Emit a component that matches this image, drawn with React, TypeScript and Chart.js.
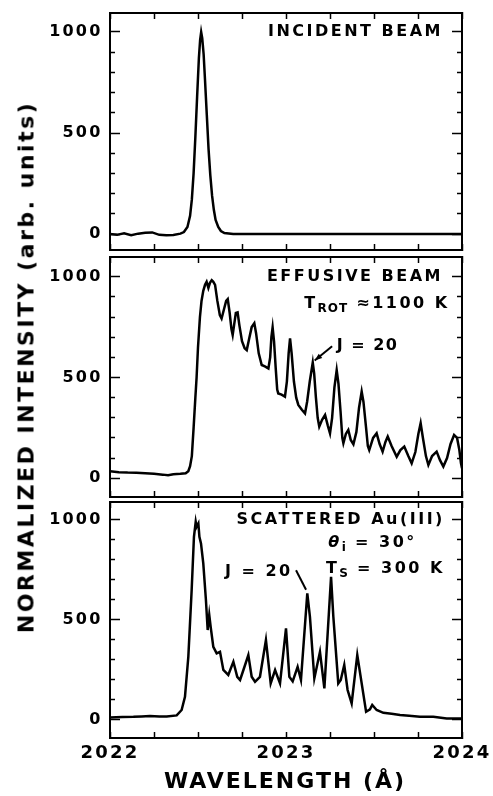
import React, { useEffect, useRef } from 'react';
import { Chart, registerables } from 'chart.js';

Chart.register(...registerables);

// ---------- axes ----------
const X_MIN = 2022;
const X_MAX = 2024;
const X_TICKS = [2022, 2022.25, 2022.5, 2022.75, 2023, 2023.25, 2023.5, 2023.75, 2024];
const X_LABELS = [2022, 2023, 2024];
const Y_MAJOR_TICKS = [0, 500, 1000];
const Y_MINOR_TICKS = [100, 200, 300, 400, 600, 700, 800, 900];

// ---------- data ----------
const incidentWavelength = [
  2022.0, 2022.04, 2022.08, 2022.12, 2022.16, 2022.2, 2022.24, 2022.28, 2022.32, 2022.36,
  2022.4, 2022.42, 2022.44, 2022.455, 2022.465, 2022.475, 2022.485, 2022.495, 2022.505,
  2022.512, 2022.518, 2022.524, 2022.532, 2022.54, 2022.55, 2022.56, 2022.57, 2022.58,
  2022.59, 2022.6, 2022.615, 2022.63, 2022.65, 2022.7, 2022.8, 2022.9, 2023.0, 2023.2,
  2023.4, 2023.6, 2023.8, 2024.0,
];
const incidentIntensity = [
  0, -4, 4, -6, 2, 6, 8, -4, -6, -5,
  2, 10, 35, 90, 170, 300, 480, 680, 870,
  960, 1000, 970, 890, 760, 590, 420, 290, 190,
  120, 70, 35, 15, 5, 0, 0, 0, 0, 0,
  0, 0, 0, 0,
];

const effusiveWavelength = [
  2022.0, 2022.05, 2022.1, 2022.15, 2022.2, 2022.25, 2022.3, 2022.33, 2022.36, 2022.4,
  2022.43, 2022.445, 2022.455, 2022.465, 2022.475, 2022.485, 2022.492, 2022.5, 2022.511,
  2022.52, 2022.53, 2022.54, 2022.549, 2022.559, 2022.568, 2022.578, 2022.587, 2022.597,
  2022.61, 2022.624, 2022.634, 2022.648, 2022.66, 2022.669, 2022.68, 2022.69, 2022.697,
  2022.705, 2022.715, 2022.725, 2022.735, 2022.75, 2022.765, 2022.777, 2022.79, 2022.805,
  2022.82, 2022.83, 2022.845, 2022.862, 2022.88, 2022.9, 2022.91, 2022.917, 2022.924,
  2022.932, 2022.942, 2022.95, 2022.956, 2022.975, 2022.994, 2023.005, 2023.015, 2023.023,
  2023.032, 2023.045, 2023.058, 2023.07, 2023.09, 2023.108, 2023.12, 2023.135, 2023.152,
  2023.16, 2023.17, 2023.18, 2023.189, 2023.205, 2023.222, 2023.238, 2023.25, 2023.262,
  2023.275, 2023.288, 2023.298, 2023.31, 2023.32, 2023.326, 2023.34, 2023.354, 2023.368,
  2023.383, 2023.4, 2023.415, 2023.43, 2023.44, 2023.455, 2023.465, 2023.473, 2023.495,
  2023.515, 2023.532, 2023.549, 2023.565, 2023.578, 2023.6, 2023.629, 2023.65, 2023.672,
  2023.695, 2023.714, 2023.735, 2023.752, 2023.765, 2023.778, 2023.795, 2023.809, 2023.83,
  2023.856, 2023.875, 2023.894, 2023.915, 2023.935, 2023.955, 2023.972, 2023.985, 2023.994,
  2024.0,
];
const effusiveIntensity = [
  35, 30, 28, 27, 25, 22, 18, 15, 20, 22,
  25, 35, 60, 110, 250, 400, 500, 650, 800,
  880, 930, 960, 975, 945, 970, 983, 975, 960,
  880, 810, 793, 840, 880, 889, 820, 740, 711,
  760, 820, 823, 760, 680, 645, 636, 690, 750,
  769, 720, 620, 562, 555, 545, 600, 700, 749,
  680, 540, 440, 421, 415, 405, 480, 620, 694,
  620, 480, 400, 364, 340, 322, 380, 480, 574,
  520, 400, 300, 256, 290, 314, 260, 223, 300,
  450, 537, 470, 330, 200, 174, 220, 240, 190,
  169, 230, 350, 430, 380, 250, 160, 140, 200,
  223, 170, 132, 180, 207, 160, 107, 140, 157,
  110, 74, 130, 220, 273, 200, 110, 66, 110,
  132, 90, 58, 100, 170, 215, 200, 140, 75,
  50,
];

const scatteredWavelength = [
  2022.0, 2022.07, 2022.133, 2022.18, 2022.227, 2022.28, 2022.322, 2022.379, 2022.407, 2022.426,
  2022.445, 2022.464, 2022.477, 2022.487, 2022.492, 2022.502, 2022.508, 2022.517, 2022.53,
  2022.545, 2022.555, 2022.564, 2022.572, 2022.587, 2022.606, 2022.625, 2022.644, 2022.672,
  2022.701, 2022.723, 2022.739, 2022.758, 2022.786, 2022.805, 2022.824, 2022.852, 2022.886,
  2022.913, 2022.938, 2022.966, 2023.0, 2023.019, 2023.038, 2023.066, 2023.085, 2023.121,
  2023.136, 2023.161, 2023.193, 2023.218, 2023.256, 2023.269, 2023.297, 2023.311, 2023.331,
  2023.35, 2023.373, 2023.405, 2023.43, 2023.455, 2023.477, 2023.49, 2023.515, 2023.553,
  2023.6, 2023.648, 2023.7, 2023.761, 2023.837, 2023.913, 2023.994, 2024.0,
];
const scatteredIntensity = [
  10, 12, 13, 15, 17, 14, 15, 20, 47, 113,
  313, 647, 913, 988, 963, 980, 913, 880, 780,
  597, 447, 522, 463, 363, 330, 338, 247, 222,
  288, 213, 197, 247, 322, 213, 188, 213, 397,
  180, 247, 180, 455, 213, 190, 263, 197, 630,
  513, 205, 338, 155, 713, 513, 180, 197, 272,
  147, 80, 322, 180, 38, 50, 72, 47, 33,
  28, 22, 18, 13, 13, 5, 5, 5,
];

// ---------- layout / annotation configuration ----------
const FONT = '"DejaVu Sans", sans-serif';

type Part = { t: string; sub?: boolean; italic?: boolean; ls?: number };
type Note = { parts: Part[]; x: number; y: number; align: 'left' | 'right' };
type Arrow = { from: [number, number]; to: [number, number]; head: boolean };

const PANELS = [
  {
    key: 'incident',
    xs: incidentWavelength,
    ys: incidentIntensity,
    yMin: -79,
    yMax: 1094,
    top: 0,
    height: 254,
    padTop: 13,
    padBottom: 4,
    showX: false,
    notes: [{ parts: [{ t: 'INCIDENT BEAM' }], x: 2023.892, y: 1000, align: 'right' }] as Note[],
    arrows: [] as Arrow[],
  },
  {
    key: 'effusive',
    xs: effusiveWavelength,
    ys: effusiveIntensity,
    yMin: -93,
    yMax: 1098,
    top: 254,
    height: 246,
    padTop: 3,
    padBottom: 3,
    showX: false,
    notes: [
      { parts: [{ t: 'EFFUSIVE BEAM' }], x: 2023.892, y: 1000, align: 'right' },
      { parts: [{ t: 'T' }, { t: 'ROT', sub: true }, { t: ' ≈1100 K' }], x: 2023.93, y: 864, align: 'right' },
      { parts: [{ t: 'J = 20', ls: 1.5 }], x: 2023.288, y: 656, align: 'left' },
    ] as Note[],
    arrows: [{ from: [2023.262, 655], to: [2023.163, 584], head: true }] as Arrow[],
  },
  {
    key: 'scattered',
    xs: scatteredWavelength,
    ys: scatteredIntensity,
    yMin: -93,
    yMax: 1087,
    top: 500,
    height: 296,
    padTop: 2,
    padBottom: 58,
    showX: true,
    notes: [
      { parts: [{ t: 'SCATTERED Au(III)' }], x: 2023.903, y: 1000, align: 'right' },
      { parts: [{ t: 'θ', italic: true }, { t: 'i', sub: true }, { t: ' = 30°' }], x: 2023.743, y: 881, align: 'right' },
      { parts: [{ t: 'T' }, { t: 'S', sub: true }, { t: ' = 300 K' }], x: 2023.903, y: 751, align: 'right' },
      { parts: [{ t: 'J = 20' }], x: 2022.653, y: 736, align: 'left' },
    ] as Note[],
    arrows: [{ from: [2023.057, 746], to: [2023.114, 648], head: false }] as Arrow[],
  },
];

type PanelCfg = (typeof PANELS)[number];

function drawNotes(chart: any, cfg: PanelCfg) {
  const ctx: CanvasRenderingContext2D = chart.ctx;
  const xs = chart.scales.x;
  const ys = chart.scales.y;
  ctx.save();
  ctx.fillStyle = '#000';
  ctx.strokeStyle = '#000';
  ctx.textBaseline = 'middle';
  ctx.textAlign = 'left';
  for (const note of cfg.notes) {
    const px = xs.getPixelForValue(note.x);
    const py = ys.getPixelForValue(note.y);
    const parts = note.parts.map((p) => {
      const size = p.sub ? 12 : 16;
      const font = `${p.italic ? 'italic ' : ''}bold ${size}px ${FONT}`;
      const ls = p.ls ?? (p.sub ? 1 : 2.5);
      ctx.font = font;
      (ctx as any).letterSpacing = `${ls}px`;
      return { ...p, font, ls, w: ctx.measureText(p.t).width };
    });
    const total = parts.reduce((s, p) => s + p.w, 0);
    let x = note.align === 'right' ? px - total : px;
    for (const p of parts) {
      ctx.font = p.font;
      (ctx as any).letterSpacing = `${p.ls}px`;
      ctx.fillText(p.t, x, py + (p.sub ? 5 : 0));
      x += p.w;
    }
  }
  for (const a of cfg.arrows) {
    const x1 = xs.getPixelForValue(a.from[0]);
    const y1 = ys.getPixelForValue(a.from[1]);
    const x2 = xs.getPixelForValue(a.to[0]);
    const y2 = ys.getPixelForValue(a.to[1]);
    ctx.lineWidth = 2;
    ctx.beginPath();
    ctx.moveTo(x1, y1);
    ctx.lineTo(x2, y2);
    ctx.stroke();
    if (a.head) {
      const ang = Math.atan2(y2 - y1, x2 - x1);
      const L = 8;
      ctx.beginPath();
      ctx.moveTo(x2, y2);
      ctx.lineTo(x2 - L * Math.cos(ang - 0.35), y2 - L * Math.sin(ang - 0.35));
      ctx.lineTo(x2 - L * Math.cos(ang + 0.35), y2 - L * Math.sin(ang + 0.35));
      ctx.closePath();
      ctx.fill();
    }
  }
  ctx.restore();
}

function zeroPad(s: any) {
  s.paddingTop = 0;
  s.paddingBottom = 0;
  s.paddingLeft = 0;
  s.paddingRight = 0;
}

function Panel({ cfg }: { cfg: PanelCfg }) {
  const ref = useRef<HTMLCanvasElement>(null);
  useEffect(() => {
    if (!ref.current) return;
    const black = '#000';
    const tickFont = { family: FONT, size: 16, weight: 'bold' as const };
    const xTicks = (s: any) => {
      s.ticks = X_TICKS.map((v) => ({ value: v }));
    };
    const majorY = (s: any) => {
      s.ticks = Y_MAJOR_TICKS.map((v) => ({ value: v }));
    };
    const minorY = (s: any) => {
      s.ticks = Y_MINOR_TICKS.map((v) => ({ value: v }));
    };
    const chart = new Chart(ref.current, {
      type: 'line',
      data: {
        datasets: [
          {
            data: cfg.xs.map((x, i) => ({ x, y: cfg.ys[i] })),
            borderColor: black,
            borderWidth: 2.5,
            pointRadius: 0,
            tension: 0,
            fill: false,
            yAxisID: 'y',
            xAxisID: 'x',
          },
        ],
      },
      options: {
        animation: false,
        responsive: false,
        maintainAspectRatio: false,
        devicePixelRatio: 1,
        layout: { padding: 0 },
        events: [],
        plugins: { legend: { display: false }, tooltip: { enabled: false }, title: { display: false } },
        scales: {
          x: {
            type: 'linear',
            position: 'bottom',
            min: X_MIN,
            max: X_MAX,
            afterBuildTicks: xTicks,
            afterFit: (s: any) => {
              s.height = cfg.padBottom;
              zeroPad(s);
            },
            grid: { drawOnChartArea: false, drawTicks: true, tickLength: -6, tickColor: black, tickWidth: 1.5 },
            border: { display: true, color: black, width: 2 },
            ticks: {
              display: cfg.showX,
              autoSkip: false,
              maxRotation: 0,
              padding: 11,
              color: black,
              font: { family: FONT, size: 18, weight: 'bold' },
              callback: (v: any) => (X_LABELS.includes(Number(v)) ? String(v) : ''),
            },
          },
          xTop: {
            type: 'linear',
            position: 'top',
            min: X_MIN,
            max: X_MAX,
            afterBuildTicks: xTicks,
            afterFit: (s: any) => {
              s.height = cfg.padTop;
              zeroPad(s);
            },
            grid: { drawOnChartArea: false, drawTicks: true, tickLength: -6, tickColor: black, tickWidth: 1.5 },
            border: { display: true, color: black, width: 2 },
            ticks: { display: false },
          },
          y: {
            type: 'linear',
            position: 'left',
            weight: 1,
            min: cfg.yMin,
            max: cfg.yMax,
            afterBuildTicks: majorY,
            afterFit: (s: any) => {
              s.width = 110;
              zeroPad(s);
            },
            grid: { drawOnChartArea: false, drawTicks: true, tickLength: -10, tickColor: black, tickWidth: 1.5 },
            border: { display: true, color: black, width: 2 },
            ticks: { display: true, padding: 17.5, color: black, font: tickFont, callback: (v: any) => String(v) },
          },
          yMinorL: {
            type: 'linear',
            position: 'left',
            weight: 0,
            min: cfg.yMin,
            max: cfg.yMax,
            afterBuildTicks: minorY,
            afterFit: (s: any) => {
              s.width = 0;
              zeroPad(s);
            },
            grid: { drawOnChartArea: false, drawTicks: true, tickLength: -5, tickColor: black, tickWidth: 1.5 },
            border: { display: false },
            ticks: { display: false },
          },
          yR: {
            type: 'linear',
            position: 'right',
            weight: 1,
            min: cfg.yMin,
            max: cfg.yMax,
            afterBuildTicks: majorY,
            afterFit: (s: any) => {
              s.width = 31;
              zeroPad(s);
            },
            grid: { drawOnChartArea: false, drawTicks: true, tickLength: -10, tickColor: black, tickWidth: 1.5 },
            border: { display: true, color: black, width: 2 },
            ticks: { display: false },
          },
          yMinorR: {
            type: 'linear',
            position: 'right',
            weight: 0,
            min: cfg.yMin,
            max: cfg.yMax,
            afterBuildTicks: minorY,
            afterFit: (s: any) => {
              s.width = 0;
              zeroPad(s);
            },
            grid: { drawOnChartArea: false, drawTicks: true, tickLength: -5, tickColor: black, tickWidth: 1.5 },
            border: { display: false },
            ticks: { display: false },
          },
        },
      } as any,
      plugins: [
        {
          id: 'spacing',
          beforeDraw: (c: any) => {
            c.ctx.letterSpacing = '2.2px';
          },
          afterDraw: (c: any) => {
            drawNotes(c, cfg);
            c.ctx.letterSpacing = '0px';
          },
        },
      ],
    });
    return () => chart.destroy();
  }, [cfg]);
  return (
    <canvas
      ref={ref}
      width={493}
      height={cfg.height}
      style={{ position: 'absolute', left: 0, top: cfg.top, width: 493, height: cfg.height, display: 'block' }}
    />
  );
}

export default function App() {
  return (
    <div
      style={{
        position: 'absolute',
        left: 0,
        top: 0,
        width: 493,
        height: 796,
        background: '#fff',
        overflow: 'hidden',
      }}
    >
      {PANELS.map((p) => (
        <Panel key={p.key} cfg={p} />
      ))}
      <div
        style={{
          position: 'absolute',
          left: 26,
          top: 367,
          transform: 'translate(-50%, -50%) rotate(-90deg)',
          whiteSpace: 'nowrap',
          font: `bold 22px ${FONT}`,
          letterSpacing: '2.5px',
          color: '#000',
        }}
      >
        NORMALIZED INTENSITY (arb. units)
      </div>
      <div
        style={{
          position: 'absolute',
          left: 285,
          top: 780,
          transform: 'translate(-50%, -50%)',
          whiteSpace: 'nowrap',
          font: `bold 22px ${FONT}`,
          letterSpacing: '2px',
          color: '#000',
        }}
      >
        WAVELENGTH (Å)
      </div>
    </div>
  );
}
